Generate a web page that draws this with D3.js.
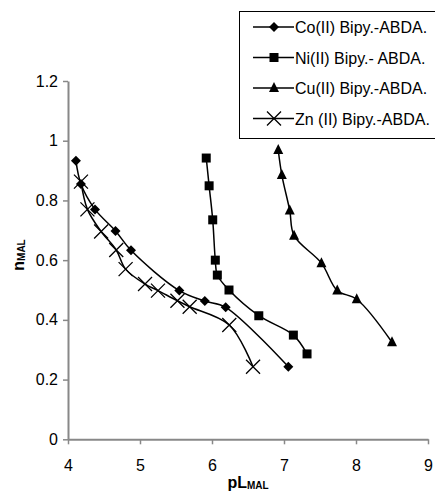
<!DOCTYPE html>
<html><head><meta charset="utf-8">
<script src="https://cdn.jsdelivr.net/npm/d3@7"></script>
<style>body{margin:0;background:#fff}svg{font-family:"Liberation Sans",Arial,sans-serif}</style>
</head><body><div id="chart"></div>
<script>
const seriesNames = ["Co(II) Bipy.-ABDA.", "Ni(II) Bipy.- ABDA.", "Cu(II) Bipy.-ABDA.", "Zn (II) Bipy.-ABDA."];
const coX = [4.11, 4.18, 4.375, 4.66, 4.875, 5.546, 5.90, 6.19, 7.06];
const coY = [0.933, 0.855, 0.77, 0.698, 0.633, 0.498, 0.463, 0.442, 0.243];
const niX = [5.92, 5.96, 6.01, 6.046, 6.074, 6.236, 6.65, 7.13, 7.32];
const niY = [0.942, 0.849, 0.735, 0.60, 0.55, 0.50, 0.414, 0.349, 0.286];
const cuX = [6.92, 6.97, 7.08, 7.14, 7.52, 7.74, 8.01, 8.50];
const cuY = [0.969, 0.885, 0.766, 0.682, 0.59, 0.498, 0.469, 0.325];
const znX = [4.18, 4.27, 4.46, 4.67, 4.80, 5.07, 5.25, 5.52, 5.69, 6.24, 6.57];
const znY = [0.863, 0.77, 0.696, 0.634, 0.57, 0.52, 0.498, 0.464, 0.444, 0.383, 0.243];
const xTicks = [4, 5, 6, 7, 8, 9];
const yTicks = [0, 0.2, 0.4, 0.6, 0.8, 1, 1.2];

const W = 435, H = 491;
const svg = d3.select("#chart").append("svg").attr("width", W).attr("height", H);
const x = d3.scaleLinear().domain([4, 9]).range([68, 428]);
const y = d3.scaleLinear().domain([0, 1.2]).range([439.3, 81]);

const axisColor = "#888";
const gx = svg.append("g").attr("transform", `translate(0,${y(0)})`)
  .call(d3.axisBottom(x).tickValues(xTicks).tickFormat(d3.format("d")).tickSize(5).tickSizeOuter(0));
const gy = svg.append("g").attr("transform", `translate(${x(4)},0)`)
  .call(d3.axisLeft(y).tickValues(yTicks).tickFormat(d => d === 0 ? "0" : d3.format("~g")(d)).tickSize(5).tickSizeOuter(0));
[gx, gy].forEach(g => {
  g.select(".domain").attr("stroke", axisColor).attr("stroke-width", 2);
  g.selectAll(".tick line").attr("stroke", axisColor).attr("stroke-width", 1.5);
  g.selectAll(".tick text").attr("fill", "#000").attr("font-size", 16).attr("font-family", "Liberation Sans, Arial, sans-serif");
});
gx.selectAll(".tick text").attr("y", 20).attr("dy", "0.71em");
gy.selectAll(".tick text").attr("x", -10);

// axis titles
const xt = svg.append("text").attr("x", 248).attr("y", 488).attr("text-anchor", "middle")
  .attr("font-weight", "bold").attr("font-size", 16);
xt.append("tspan").text("pL");
xt.append("tspan").attr("font-size", 10).attr("dy", 1).text("MAL");
const yt = svg.append("text").attr("transform", "translate(24,255) rotate(-90)").attr("text-anchor", "middle")
  .attr("font-weight", "bold").attr("font-size", 16);
yt.append("tspan").text("n");
yt.append("tspan").attr("font-size", 10).attr("dy", 1).text("MAL");

const data = [[coX, coY], [niX, niY], [cuX, cuY], [znX, znY]].map(([xs, ys]) => xs.map((v, i) => [v, ys[i]]));
const line = d3.line().x(d => x(d[0])).y(d => y(d[1])).curve(d3.curveCatmullRom.alpha(0.5));

function drawSymbol(g, k, cx, cy) {
  let d;
  if (k === 0) { const r = 5; d = `M${cx},${cy - r}L${cx + r},${cy}L${cx},${cy + r}L${cx - r},${cy}Z`; }
  else if (k === 1) { const s = 4.5; d = `M${cx - s},${cy - s}h${2 * s}v${2 * s}h${-2 * s}Z`; }
  else if (k === 2) { const s = 5; d = `M${cx},${cy - 6}L${cx + s},${cy + 4}L${cx - s},${cy + 4}Z`; }
  if (k === 3) {
    const s = 7;
    g.append("path").attr("d", `M${cx - s},${cy - s}L${cx + s},${cy + s}M${cx - s},${cy + s}L${cx + s},${cy - s}`)
      .attr("stroke", "#000").attr("stroke-width", 1.3).attr("fill", "none");
  } else {
    g.append("path").attr("d", d).attr("fill", "#000");
  }
}

data.forEach((pts, k) => {
  const g = svg.append("g");
  g.append("path").attr("d", line(pts)).attr("fill", "none").attr("stroke", "#000").attr("stroke-width", 1.5);
  pts.forEach(p => drawSymbol(g, k, x(p[0]), y(p[1])));
});

// legend
const lg = svg.append("g");
lg.append("rect").attr("x", 239.5).attr("y", 11.5).attr("width", 200).attr("height", 127)
  .attr("fill", "#fff").attr("stroke", "#000").attr("stroke-width", 1);
seriesNames.forEach((name, k) => {
  const cy = 27 + k * 30.5;
  lg.append("line").attr("x1", 253).attr("x2", 294).attr("y1", cy).attr("y2", cy).attr("stroke", "#000").attr("stroke-width", 1.5);
  drawSymbol(lg, k, 274, cy);
  lg.append("text").attr("x", 295).attr("y", cy + 6).attr("font-size", 16).text(name);
});
</script></body></html>
